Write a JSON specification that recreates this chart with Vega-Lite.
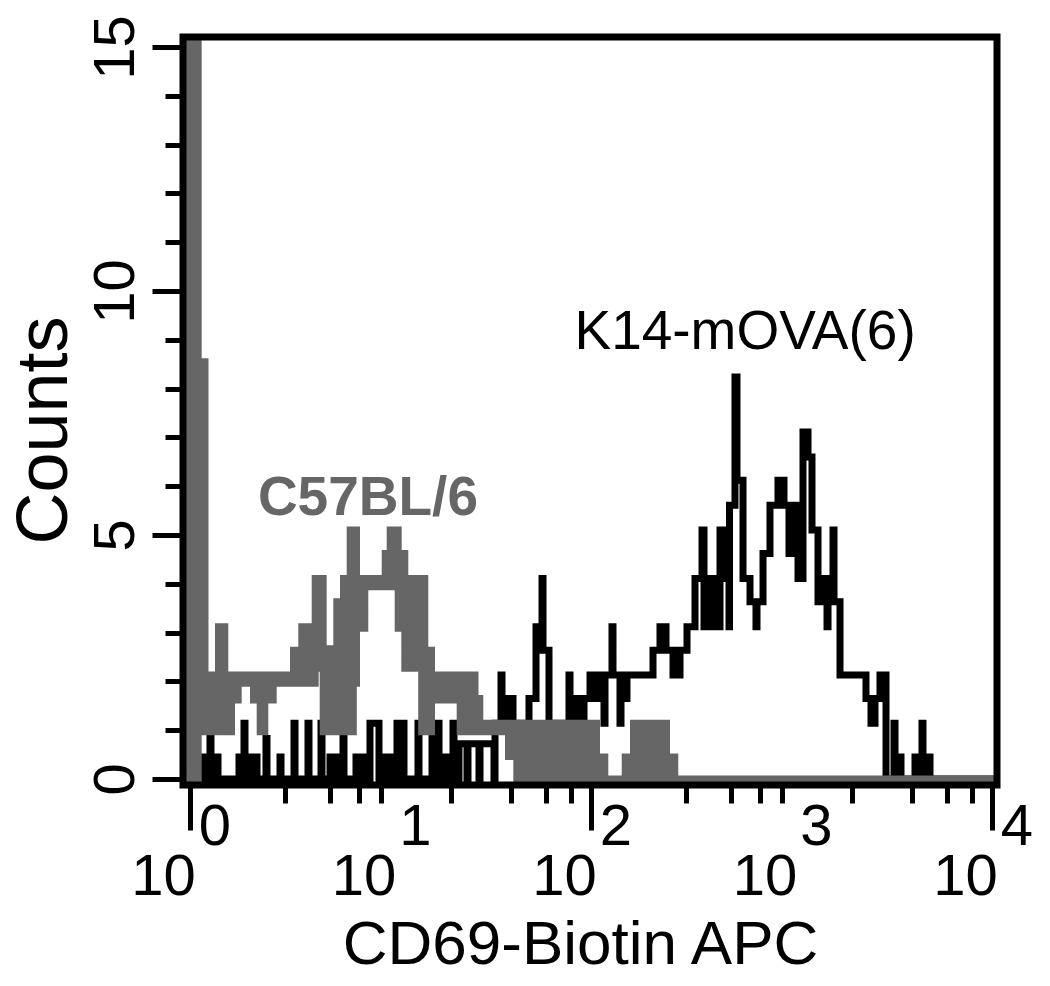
{
  "$schema": "https://vega.github.io/schema/vega-lite/v6.json",
  "width": 814,
  "height": 748,
  "autosize": {"type": "none"},
  "padding": {"left": 183, "top": 37, "right": 53, "bottom": 201},
  "background": "white",
  "config": {"view": {"stroke": null}, "axis": {"grid": false, "domain": false}},
  "datasets": {
    "k14": [
      {"log_fluor": -0.0334, "count": 0},
      {"log_fluor": 0.0713, "count": 0.45}, {"log_fluor": 0.0763, "count": 0},
      {"log_fluor": 0.1012, "count": 0.83}, {"log_fluor": 0.1062, "count": 0},
      {"log_fluor": 0.1362, "count": 0.45}, {"log_fluor": 0.1412, "count": 0},
      {"log_fluor": 0.2459, "count": 0.45}, {"log_fluor": 0.2509, "count": 0},
      {"log_fluor": 0.2708, "count": 1.14}, {"log_fluor": 0.2758, "count": 0},
      {"log_fluor": 0.3007, "count": 0.45}, {"log_fluor": 0.3057, "count": 0},
      {"log_fluor": 0.3307, "count": 0.45}, {"log_fluor": 0.3357, "count": 0},
      {"log_fluor": 0.3805, "count": 0.83}, {"log_fluor": 0.3855, "count": 0},
      {"log_fluor": 0.4504, "count": 0.45}, {"log_fluor": 0.4554, "count": 0},
      {"log_fluor": 0.5202, "count": 1.14}, {"log_fluor": 0.5252, "count": 0},
      {"log_fluor": 0.5900, "count": 1.14}, {"log_fluor": 0.5950, "count": 0},
      {"log_fluor": 0.6549, "count": 1.14}, {"log_fluor": 0.6599, "count": 0},
      {"log_fluor": 0.6998, "count": 0.45}, {"log_fluor": 0.7048, "count": 0},
      {"log_fluor": 0.7297, "count": 0.45}, {"log_fluor": 0.7347, "count": 0},
      {"log_fluor": 0.7646, "count": 0.83}, {"log_fluor": 0.7696, "count": 0},
      {"log_fluor": 0.8294, "count": 0.45}, {"log_fluor": 0.8344, "count": 0},
      {"log_fluor": 0.8643, "count": 0.45}, {"log_fluor": 0.8693, "count": 0},
      {"log_fluor": 0.8992, "count": 1.14}, {"log_fluor": 0.9441, "count": 0},
      {"log_fluor": 0.9591, "count": 0.45}, {"log_fluor": 0.9641, "count": 0},
      {"log_fluor": 0.9990, "count": 0.45}, {"log_fluor": 1.0040, "count": 0},
      {"log_fluor": 1.0339, "count": 1.14}, {"log_fluor": 1.0389, "count": 0},
      {"log_fluor": 1.0638, "count": 1.14}, {"log_fluor": 1.0688, "count": 0},
      {"log_fluor": 1.1386, "count": 1.14}, {"log_fluor": 1.1436, "count": 0},
      {"log_fluor": 1.2085, "count": 0.86}, {"log_fluor": 1.2135, "count": 0},
      {"log_fluor": 1.2384, "count": 1.14}, {"log_fluor": 1.2434, "count": 0},
      {"log_fluor": 1.2783, "count": 0.45}, {"log_fluor": 1.2833, "count": 0},
      {"log_fluor": 1.3132, "count": 1.14}, {"log_fluor": 1.3182, "count": 0},
      {"log_fluor": 1.3431, "count": 0.72}, {"log_fluor": 1.3830, "count": 0},
      {"log_fluor": 1.3880, "count": 0.72}, {"log_fluor": 1.4429, "count": 0},
      {"log_fluor": 1.4479, "count": 0.72}, {"log_fluor": 1.5177, "count": 0},
      {"log_fluor": 1.5227, "count": 1.14},
      {"log_fluor": 1.5526, "count": 2.13}, {"log_fluor": 1.5576, "count": 1.14},
      {"log_fluor": 1.5825, "count": 1.65}, {"log_fluor": 1.5875, "count": 1.14},
      {"log_fluor": 1.6075, "count": 1.65}, {"log_fluor": 1.6125, "count": 1.14},
      {"log_fluor": 1.6923, "count": 1.65},
      {"log_fluor": 1.7272, "count": 3.12},
      {"log_fluor": 1.7571, "count": 4.11}, {"log_fluor": 1.7621, "count": 2.64},
      {"log_fluor": 1.7920, "count": 1.14},
      {"log_fluor": 1.8918, "count": 2.13}, {"log_fluor": 1.8968, "count": 1.14},
      {"log_fluor": 1.9167, "count": 1.65}, {"log_fluor": 1.9466, "count": 1.14},
      {"log_fluor": 1.9666, "count": 1.65},
      {"log_fluor": 1.9965, "count": 2.13}, {"log_fluor": 2.0214, "count": 1.65},
      {"log_fluor": 2.0414, "count": 2.13}, {"log_fluor": 2.0663, "count": 1.14},
      {"log_fluor": 2.0713, "count": 2.13}, {"log_fluor": 2.1062, "count": 3.12},
      {"log_fluor": 2.1112, "count": 2.13}, {"log_fluor": 2.1461, "count": 1.14},
      {"log_fluor": 2.1511, "count": 2.13}, {"log_fluor": 2.1760, "count": 1.65},
      {"log_fluor": 2.1810, "count": 2.13},
      {"log_fluor": 2.3107, "count": 2.64},
      {"log_fluor": 2.3456, "count": 3.12}, {"log_fluor": 2.3756, "count": 2.64},
      {"log_fluor": 2.4105, "count": 2.13}, {"log_fluor": 2.4454, "count": 2.64},
      {"log_fluor": 2.4803, "count": 3.12},
      {"log_fluor": 2.5202, "count": 4.11},
      {"log_fluor": 2.5551, "count": 5.10}, {"log_fluor": 2.5651, "count": 3.12},
      {"log_fluor": 2.5900, "count": 4.11}, {"log_fluor": 2.6199, "count": 3.12},
      {"log_fluor": 2.6449, "count": 5.10}, {"log_fluor": 2.6648, "count": 4.11},
      {"log_fluor": 2.6898, "count": 3.12}, {"log_fluor": 2.6923, "count": 5.61},
      {"log_fluor": 2.7196, "count": 8.24}, {"log_fluor": 2.7296, "count": 6.12},
      {"log_fluor": 2.7596, "count": 4.11}, {"log_fluor": 2.7945, "count": 3.63},
      {"log_fluor": 2.8244, "count": 3.12}, {"log_fluor": 2.8294, "count": 3.63},
      {"log_fluor": 2.8594, "count": 4.62}, {"log_fluor": 2.8942, "count": 5.61},
      {"log_fluor": 2.9341, "count": 6.12}, {"log_fluor": 2.9640, "count": 5.61},
      {"log_fluor": 2.9890, "count": 4.62}, {"log_fluor": 3.0090, "count": 5.61},
      {"log_fluor": 3.0339, "count": 4.11}, {"log_fluor": 3.0588, "count": 7.11},
      {"log_fluor": 3.0838, "count": 6.60}, {"log_fluor": 3.1037, "count": 5.10},
      {"log_fluor": 3.1337, "count": 3.63}, {"log_fluor": 3.1636, "count": 4.11},
      {"log_fluor": 3.1786, "count": 3.12}, {"log_fluor": 3.1836, "count": 3.63},
      {"log_fluor": 3.2085, "count": 5.10}, {"log_fluor": 3.2135, "count": 3.63},
      {"log_fluor": 3.2434, "count": 2.13},
      {"log_fluor": 3.3730, "count": 1.65}, {"log_fluor": 3.3980, "count": 1.14},
      {"log_fluor": 3.4179, "count": 1.65}, {"log_fluor": 3.4428, "count": 2.13},
      {"log_fluor": 3.4728, "count": 0},
      {"log_fluor": 3.5127, "count": 1.14}, {"log_fluor": 3.5177, "count": 0.45},
      {"log_fluor": 3.5476, "count": 0},
      {"log_fluor": 3.6174, "count": 0.45}, {"log_fluor": 3.6224, "count": 0},
      {"log_fluor": 3.6523, "count": 1.14}, {"log_fluor": 3.6573, "count": 0},
      {"log_fluor": 3.6873, "count": 0.45}, {"log_fluor": 3.6923, "count": 0},
      {"log_fluor": 4.0264, "count": 0}
    ],
    "c57": [
      {"log_fluor": -0.0334, "hi": 40, "lo": 0},
      {"log_fluor": 0.0424, "hi": 8.55, "lo": 1.62},
      {"log_fluor": 0.0763, "hi": 2.13, "lo": 0.97},
      {"log_fluor": 0.1436, "hi": 3.12, "lo": 0.97},
      {"log_fluor": 0.1751, "hi": 2.13, "lo": 0.97},
      {"log_fluor": 0.2085, "hi": 2.13, "lo": 1.62},
      {"log_fluor": 0.2419, "hi": 2.13, "lo": 1.96},
      {"log_fluor": 0.3182, "hi": 2.13, "lo": 1.62},
      {"log_fluor": 0.3516, "hi": 2.13, "lo": 0.97},
      {"log_fluor": 0.3746, "hi": 2.13, "lo": 1.62},
      {"log_fluor": 0.4165, "hi": 2.13, "lo": 1.96},
      {"log_fluor": 0.5177, "hi": 2.64, "lo": 1.96},
      {"log_fluor": 0.5591, "hi": 3.12, "lo": 1.96},
      {"log_fluor": 0.6259, "hi": 4.11, "lo": 2.27},
      {"log_fluor": 0.6414, "hi": 4.11, "lo": 2.58},
      {"log_fluor": 0.6658, "hi": 2.67, "lo": 0.97},
      {"log_fluor": 0.7337, "hi": 3.63, "lo": 0.97},
      {"log_fluor": 0.7671, "hi": 4.11, "lo": 0.97},
      {"log_fluor": 0.8005, "hi": 5.10, "lo": 0.97},
      {"log_fluor": 0.8160, "hi": 5.10, "lo": 1.96},
      {"log_fluor": 0.8319, "hi": 4.11, "lo": 3.09},
      {"log_fluor": 0.8733, "hi": 4.11, "lo": 3.94},
      {"log_fluor": 0.9751, "hi": 4.62, "lo": 3.94},
      {"log_fluor": 1.0000, "hi": 5.10, "lo": 3.94},
      {"log_fluor": 1.0399, "hi": 4.62, "lo": 3.09},
      {"log_fluor": 1.0728, "hi": 4.11, "lo": 2.27},
      {"log_fluor": 1.1571, "hi": 4.11, "lo": 0.97},
      {"log_fluor": 1.1726, "hi": 2.64, "lo": 0.97},
      {"log_fluor": 1.2060, "hi": 2.13, "lo": 1.62},
      {"log_fluor": 1.3491, "hi": 2.13, "lo": 0.97},
      {"log_fluor": 1.4229, "hi": 1.65, "lo": 0.97},
      {"log_fluor": 1.4469, "hi": 1.14, "lo": 0.97},
      {"log_fluor": 1.5900, "hi": 1.14, "lo": 0.46},
      {"log_fluor": 1.6314, "hi": 1.14, "lo": 0},
      {"log_fluor": 2.0289, "hi": 0.45, "lo": 0},
      {"log_fluor": 2.0703, "hi": 0, "lo": 0},
      {"log_fluor": 2.1721, "hi": 0.45, "lo": 0},
      {"log_fluor": 2.2135, "hi": 1.14, "lo": 0},
      {"log_fluor": 2.3781, "hi": 0.45, "lo": 0},
      {"log_fluor": 2.4194, "hi": 0, "lo": 0},
      {"log_fluor": 4.0264, "hi": 0, "lo": 0}
    ],
    "decades": [
      {"log_fluor": 0, "base": "10", "exponent": "0"},
      {"log_fluor": 1, "base": "10", "exponent": "1"},
      {"log_fluor": 2, "base": "10", "exponent": "2"},
      {"log_fluor": 3, "base": "10", "exponent": "3"},
      {"log_fluor": 4, "base": "10", "exponent": "4"}
    ]
  },
  "layer": [
    {
      "data": {"name": "k14"},
      "mark": {"type": "line", "interpolate": "step-after", "color": "black", "strokeWidth": 7, "clip": true},
      "encoding": {
        "x": {
          "field": "log_fluor", "type": "quantitative",
          "scale": {"domain": [-0.0334, 4.0264], "nice": false, "zero": false},
          "axis": {
            "values": [0, 0.30103, 0.47712, 0.60206, 0.69897, 0.77815, 0.8451, 0.90309, 0.95424, 1, 1.30103, 1.47712, 1.60206, 1.69897, 1.77815, 1.8451, 1.90309, 1.95424, 2, 2.30103, 2.47712, 2.60206, 2.69897, 2.77815, 2.8451, 2.90309, 2.95424, 3, 3.30103, 3.47712, 3.60206, 3.69897, 3.77815, 3.8451, 3.90309, 3.95424, 4],
            "labels": false,
            "tickSize": {"condition": {"test": "datum.value % 1 === 0", "value": 45}, "value": 18},
            "tickColor": "black", "tickWidth": 5,
            "title": "CD69-Biotin APC", "titleFont": "Liberation Sans", "titleFontSize": 62,
            "titleFontWeight": "normal", "titleColor": "black", "titlePadding": 82, "titleX": 397
          }
        },
        "y": {
          "field": "count", "type": "quantitative",
          "scale": {"domain": [-0.123, 15.205], "nice": false, "zero": false},
          "axis": {
            "values": [0, 1, 2, 3, 4, 5, 6, 7, 8, 9, 10, 11, 12, 13, 14, 15],
            "labelExpr": "datum.value % 5 === 0 ? datum.label : ''",
            "tickSize": {"condition": {"test": "datum.value % 5 === 0", "value": 31}, "value": 18},
            "tickColor": "black", "tickWidth": 5,
            "labelAngle": 270, "labelAlign": "center", "labelBaseline": "alphabetic",
            "labelFont": "Liberation Sans", "labelFontSize": 58, "labelColor": "black",
            "labelPadding": 19, "labelFlush": false, "labelOverlap": false, "labelBound": false,
            "title": "Counts", "titleFont": "Liberation Sans", "titleFontSize": 72,
            "titleFontWeight": "normal", "titleColor": "black", "titlePadding": 6, "titleY": 393
          }
        }
      }
    },
    {
      "data": {"name": "c57"},
      "mark": {"type": "area", "interpolate": "step-after", "fill": "#666666", "stroke": "#666666", "strokeWidth": 7, "clip": true},
      "encoding": {
        "x": {"field": "log_fluor", "type": "quantitative"},
        "y": {"field": "hi", "type": "quantitative"},
        "y2": {"field": "lo"}
      }
    },
    {
      "data": {"values": [{"frame": "plot"}]},
      "mark": {"type": "rect", "fill": null, "stroke": "black", "strokeWidth": 7},
      "encoding": {
        "x": {"datum": -0.0334}, "x2": {"datum": 4.0264},
        "y": {"datum": -0.123}, "y2": {"datum": 15.205}
      }
    },
    {
      "data": {"name": "decades"},
      "mark": {"type": "text", "align": "right", "baseline": "alphabetic", "dx": 6, "dy": 110, "font": "Liberation Sans", "fontSize": 58, "color": "black"},
      "encoding": {
        "x": {"field": "log_fluor", "type": "quantitative"},
        "y": {"datum": -0.123},
        "text": {"field": "base"}
      }
    },
    {
      "data": {"name": "decades"},
      "mark": {"type": "text", "align": "left", "baseline": "alphabetic", "dx": 9, "dy": 60, "font": "Liberation Sans", "fontSize": 58, "color": "black"},
      "encoding": {
        "x": {"field": "log_fluor", "type": "quantitative"},
        "y": {"datum": -0.123},
        "text": {"field": "exponent"}
      }
    },
    {
      "data": {"values": [{"label": "K14-mOVA(6)"}]},
      "mark": {"type": "text", "align": "center", "baseline": "alphabetic", "font": "Liberation Sans", "fontSize": 55, "color": "black"},
      "encoding": {"x": {"datum": 2.77}, "y": {"datum": 8.81}, "text": {"field": "label"}}
    },
    {
      "data": {"values": [{"label": "C57BL/6"}]},
      "mark": {"type": "text", "align": "center", "baseline": "alphabetic", "font": "Liberation Sans", "fontSize": 55, "fontWeight": "bold", "color": "#666666"},
      "encoding": {"x": {"datum": 0.889}, "y": {"datum": 5.41}, "text": {"field": "label"}}
    }
  ]
}
